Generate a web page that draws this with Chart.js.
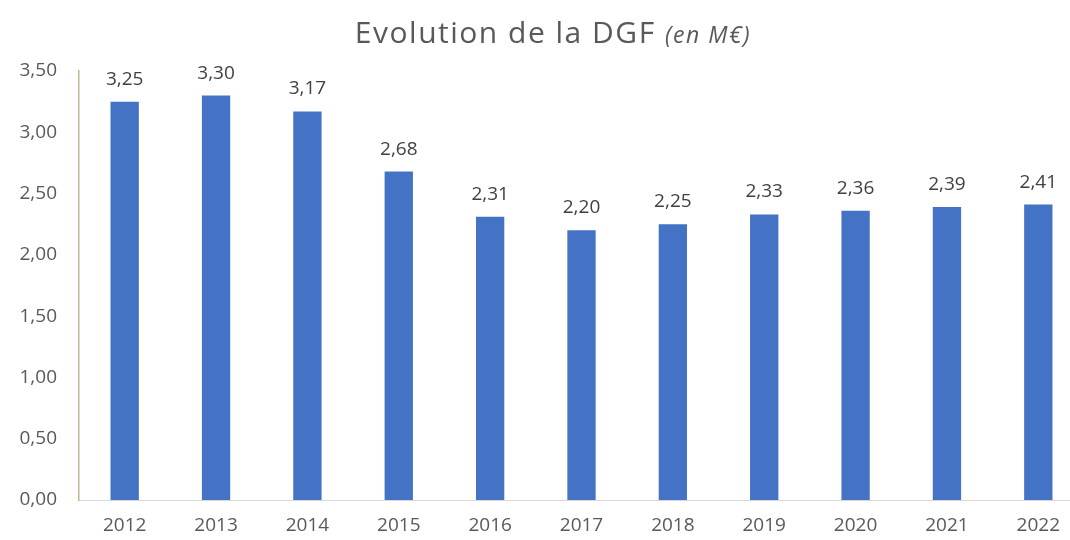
<!DOCTYPE html>
<html>
<head>
<meta charset="utf-8">
<script src="https://cdn.jsdelivr.net/npm/chart.js@4"></script>
<style>
html,body{margin:0;padding:0;background:#fff;overflow:hidden;width:1070px;height:540px;}
#wrap{width:1084px;height:540px;}
</style>
</head>
<body>
<div id="wrap"><canvas id="c" width="1084" height="540"></canvas></div>
<script>
const categories = ['2012','2013','2014','2015','2016','2017','2018','2019','2020','2021','2022'];
const values = [3.25, 3.30, 3.17, 2.68, 2.31, 2.20, 2.25, 2.33, 2.36, 2.39, 2.41];
const yTicks = [0, 0.5, 1, 1.5, 2, 2.5, 3, 3.5];
const titleMain = 'Evolution de la DGF ';
const titleUnit = '(en M€)';

const FONT = '"Open Sans", sans-serif';
const fmt = v => v.toFixed(2).replace('.', ',');

const titlePlugin = {
  id: 'richTitle',
  afterDraw(chart) {
    const ctx = chart.ctx;
    ctx.save();
    ctx.fillStyle = '#595959';
    ctx.textBaseline = 'alphabetic';
    try { ctx.letterSpacing = '1.5px'; } catch (e) {}
    const f1 = '30px ' + FONT;
    const f2 = 'italic 23px ' + FONT;
    ctx.font = f1; const w1 = ctx.measureText(titleMain).width;
    ctx.font = f2; const w2 = ctx.measureText(titleUnit).width;
    const cx = 553;
    let x = cx - (w1 + w2) / 2;
    ctx.font = f1; ctx.textAlign = 'left'; ctx.fillText(titleMain, x, 43);
    ctx.font = f2; ctx.fillText(titleUnit, x + w1, 43);
    ctx.restore();
  }
};

const labelPlugin = {
  id: 'valueLabels',
  afterDatasetsDraw(chart) {
    const ctx = chart.ctx;
    const meta = chart.getDatasetMeta(0);
    ctx.save();
    ctx.fillStyle = '#404040';
    ctx.font = '19px ' + FONT;
    ctx.textAlign = 'center';
    ctx.textBaseline = 'alphabetic';
    meta.data.forEach((bar, i) => {
      ctx.fillText(fmt(values[i]), bar.x, bar.y - 17);
    });
    ctx.restore();
  }
};

new Chart(document.getElementById('c'), {
  type: 'bar',
  data: {
    labels: categories,
    datasets: [{
      data: values,
      backgroundColor: '#4472C4',
      borderWidth: 0,
      categoryPercentage: 1,
      barPercentage: 0.31
    }]
  },
  options: {
    responsive: false,
    animation: false,
    devicePixelRatio: 1,
    layout: { padding: { top: 71, right: 0, bottom: 0, left: 0 } },
    plugins: { legend: { display: false }, tooltip: { enabled: false }, title: { display: false } },
    scales: {
      x: {
        grid: { display: false, drawTicks: false, tickLength: 0 },
        border: { display: true, color: '#D9D9D9', width: 1 },
        ticks: { color: '#595959', font: { family: FONT, size: 19 }, padding: 14, maxRotation: 0 },
        afterFit(s) { s.height = 40; }
      },
      y: {
        min: 0, max: 3.5,
        afterBuildTicks(s) { s.ticks = yTicks.map(v => ({ value: v })); },
        grid: { display: false, drawTicks: false, tickLength: 0 },
        border: { display: true, color: '#BFB78F', width: 1.5 },
        ticks: { color: '#595959', font: { family: FONT, size: 19 }, padding: 22, callback: v => fmt(v) },
        afterFit(s) { s.width = 79; }
      }
    }
  },
  plugins: [titlePlugin, labelPlugin]
});
</script>
</body>
</html>
